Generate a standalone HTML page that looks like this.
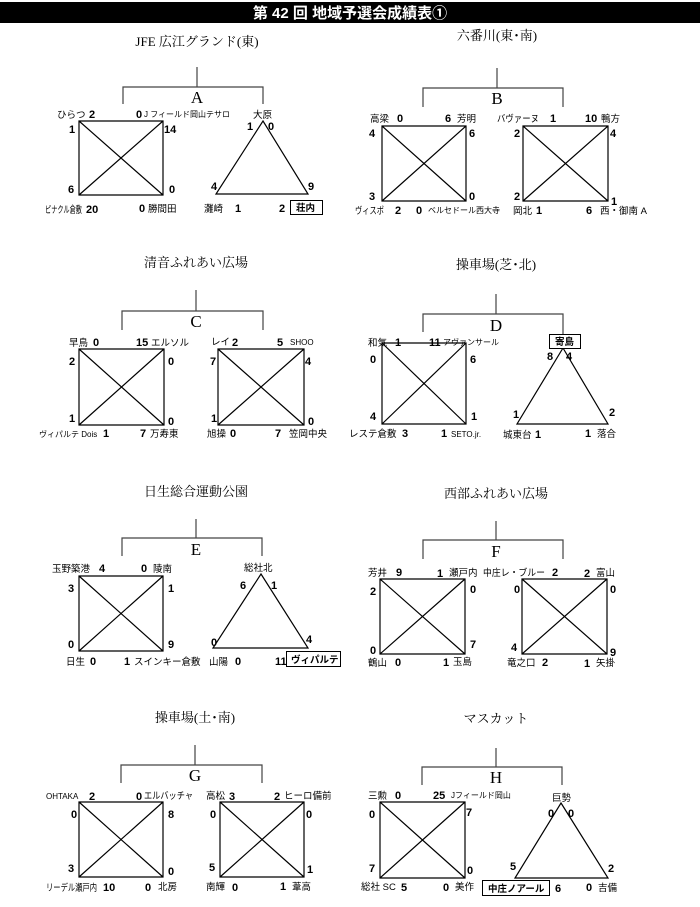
<!DOCTYPE html>
<html><head><meta charset="utf-8"><style>
html,body{margin:0;padding:0;background:#fff;width:700px;height:907px;overflow:hidden}
svg{display:block}
.n{font:bold 11px "Liberation Sans","Noto Sans CJK JP",sans-serif;fill:#000}
.t{font:9.5px "Liberation Sans","Noto Sans CJK JP",sans-serif;fill:#000}
.s{font:8px "Liberation Sans","Noto Sans CJK JP",sans-serif;fill:#000}
.b{font:bold 9.5px "Liberation Sans","Noto Sans CJK JP",sans-serif;fill:#000}
.v{font:13px "Liberation Serif","Noto Serif CJK SC",serif;fill:#000;text-anchor:middle}
.L{font:17px "Liberation Serif","Noto Serif CJK SC",serif;fill:#000;text-anchor:middle}
.ln{stroke:#000;stroke-width:1.2;fill:none}
.br{stroke:#444;stroke-width:1.2;fill:none}
</style></head><body>
<svg width="700" height="907" viewBox="0 0 700 907" xmlns="http://www.w3.org/2000/svg">
<rect x="0" y="2" width="700" height="21" fill="#000"/>
<text x="350" y="18" text-anchor="middle" style="font:bold 15px 'Liberation Sans','Noto Sans CJK JP',sans-serif;fill:#fff">第 42 回  地域予選会成績表①</text>

<!-- A -->
<text class="v" x="197" y="46">JFE 広江グランド(東)</text>
<path class="br" d="M197 67V87M123 104V87H263V104"/>
<text class="L" x="197" y="103">A</text>
<path class="ln" d="M79 121H163V195H79ZM79 121L163 195M163 121L79 195"/>
<path class="ln" d="M263 121L308 194H216Z"/>
<text class="t" x="57" y="118">ひらつ</text><text class="n" x="89" y="118">2</text>
<text class="n" x="136" y="118">0</text><text class="s" x="144" y="117">J フィールド岡山テサロ</text>
<text class="t" x="253" y="118">大原</text>
<text class="n" x="247" y="130">1</text><text class="n" x="268" y="130">0</text>
<text class="n" x="69" y="133">1</text><text class="n" x="164" y="133">14</text>
<text class="n" x="68" y="193">6</text><text class="n" x="169" y="193">0</text>
<text class="t" x="45" y="213" textLength="37" lengthAdjust="spacingAndGlyphs">ピナクル倉敷</text><text class="n" x="86" y="213">20</text>
<text class="n" x="139" y="212">0</text><text class="t" x="148" y="212">勝間田</text>
<text class="n" x="211" y="190">4</text><text class="n" x="308" y="190">9</text>
<text class="t" x="204" y="212">灘崎</text><text class="n" x="235" y="212">1</text>
<text class="n" x="279" y="212">2</text>
<rect x="290.5" y="200.5" width="32" height="14" fill="none" stroke="#000"/><text class="b" x="296" y="211">荘内</text>

<!-- B -->
<text class="v" x="497" y="40">六番川(東･南)</text>
<path class="br" d="M497 68V88M423 107V88H563V107"/>
<text class="L" x="497" y="104">B</text>
<path class="ln" d="M382 126H466V201H382ZM382 126L466 201M466 126L382 201"/>
<path class="ln" d="M523 126H608V201H523ZM523 126L608 201M608 126L523 201"/>
<text class="t" x="370" y="122">高梁</text><text class="n" x="397" y="122">0</text>
<text class="n" x="445" y="122">6</text><text class="t" x="457" y="122">芳明</text>
<text class="t" x="497" y="122" textLength="42" lengthAdjust="spacingAndGlyphs">バヴァーヌ</text><text class="n" x="550" y="122">1</text>
<text class="n" x="585" y="122">10</text><text class="t" x="601" y="122">鴨方</text>
<text class="n" x="369" y="137">4</text><text class="n" x="469" y="137">6</text>
<text class="n" x="514" y="137">2</text><text class="n" x="610" y="137">4</text>
<text class="n" x="369" y="200">3</text><text class="n" x="469" y="200">0</text>
<text class="n" x="514" y="200">2</text><text class="n" x="611" y="205">1</text>
<text class="t" x="355" y="214" textLength="29" lengthAdjust="spacingAndGlyphs">ヴィスポ</text><text class="n" x="395" y="214">2</text>
<text class="n" x="416" y="214">0</text><text class="s" x="428" y="213">ベルセドール西大寺</text>
<text class="t" x="513" y="214">岡北</text><text class="n" x="536" y="214">1</text>
<text class="n" x="586" y="214">6</text><text class="t" x="600" y="214">西・御南 A</text>

<!-- C -->
<text class="v" x="196" y="267">清音ふれあい広場</text>
<path class="br" d="M196 290V311M122 330V311H263V330"/>
<text class="L" x="196" y="327">C</text>
<path class="ln" d="M79 349H164V425H79ZM79 349L164 425M164 349L79 425"/>
<path class="ln" d="M218 349H304V425H218ZM218 349L304 425M304 349L218 425"/>
<text class="t" x="69" y="346">早鳥</text><text class="n" x="93" y="346">0</text>
<text class="n" x="136" y="346">15</text><text class="t" x="151" y="346">エルソル</text>
<text class="t" x="211" y="345">レイ</text><text class="n" x="232" y="346">2</text>
<text class="n" x="277" y="346">5</text><text class="s" x="290" y="345">SHOO</text>
<text class="n" x="69" y="365">2</text><text class="n" x="168" y="365">0</text>
<text class="n" x="210" y="365">7</text><text class="n" x="305" y="365">4</text>
<text class="n" x="69" y="422">1</text><text class="n" x="168" y="425">0</text>
<text class="n" x="211" y="422">1</text><text class="n" x="308" y="425">0</text>
<text class="s" x="39" y="437">ヴィパルテ Dois</text><text class="n" x="103" y="437">1</text>
<text class="n" x="140" y="437">7</text><text class="t" x="150" y="437">万寿東</text>
<text class="t" x="207" y="437">旭操</text><text class="n" x="230" y="437">0</text>
<text class="n" x="275" y="437">7</text><text class="t" x="289" y="437">笠岡中央</text>

<!-- D -->
<text class="v" x="496" y="269">操車場(芝･北)</text>
<path class="br" d="M496 294V314M423 332V314H563V335"/>
<text class="L" x="496" y="331">D</text>
<path class="ln" d="M382 343H466V424H382ZM382 343L466 424M466 343L382 424"/>
<path class="ln" d="M563 348L608 424H517Z"/>
<rect x="549.5" y="334.5" width="31" height="14" fill="#fff" stroke="#000"/><text class="b" x="555" y="345">寄島</text>
<text class="t" x="368" y="346">和気</text><text class="n" x="395" y="346">1</text>
<text class="n" x="429" y="346">11</text><text class="s" x="443" y="345">アヴァンサール</text>
<text class="n" x="370" y="363">0</text><text class="n" x="470" y="363">6</text>
<text class="n" x="547" y="360">8</text><text class="n" x="566" y="360">4</text>
<text class="n" x="370" y="420">4</text><text class="n" x="471" y="420">1</text>
<text class="n" x="513" y="418">1</text><text class="n" x="609" y="416">2</text>
<text class="t" x="349" y="437">レステ倉敷</text><text class="n" x="402" y="437">3</text>
<text class="n" x="441" y="437">1</text><text class="s" x="451" y="437">SETO.jr.</text>
<text class="t" x="503" y="438">城東台</text><text class="n" x="535" y="438">1</text>
<text class="n" x="585" y="437">1</text><text class="t" x="597" y="437">落合</text>

<!-- E -->
<text class="v" x="196" y="496">日生総合運動公園</text>
<path class="br" d="M196 519V538M122 556V538H262V556"/>
<text class="L" x="196" y="555">E</text>
<path class="ln" d="M79 576H163V651H79ZM79 576L163 651M163 576L79 651"/>
<path class="ln" d="M261 574L308 648H213Z"/>
<text class="t" x="52" y="572">玉野築港</text><text class="n" x="99" y="572">4</text>
<text class="n" x="141" y="572">0</text><text class="t" x="153" y="572">陵南</text>
<text class="t" x="244" y="571">総社北</text>
<text class="n" x="68" y="592">3</text><text class="n" x="168" y="592">1</text>
<text class="n" x="240" y="589">6</text><text class="n" x="271" y="589">1</text>
<text class="n" x="68" y="648">0</text><text class="n" x="168" y="648">9</text>
<text class="n" x="211" y="646">0</text><text class="n" x="306" y="643">4</text>
<text class="t" x="66" y="665">日生</text><text class="n" x="90" y="665">0</text>
<text class="n" x="124" y="665">1</text><text class="t" x="134" y="665">スインキー倉敷</text>
<text class="t" x="209" y="665">山陽</text><text class="n" x="235" y="665">0</text>
<text class="n" x="275" y="665">11</text>
<rect x="286.5" y="651.5" width="54" height="15" fill="none" stroke="#000"/><text class="b" x="291" y="663">ヴィパルテ</text>

<!-- F -->
<text class="v" x="496" y="498">西部ふれあい広場</text>
<path class="br" d="M496 521V540M423 559V540H563V559"/>
<text class="L" x="496" y="557">F</text>
<path class="ln" d="M380 579H465V654H380ZM380 579L465 654M465 579L380 654"/>
<path class="ln" d="M522 579H607V654H522ZM522 579L607 654M607 579L522 654"/>
<text class="t" x="368" y="576">芳井</text><text class="n" x="396" y="576">9</text>
<text class="n" x="437" y="577">1</text><text class="t" x="449" y="576">瀬戸内</text>
<text class="t" x="483" y="576" textLength="62" lengthAdjust="spacingAndGlyphs">中庄レ・ブルー</text><text class="n" x="552" y="576">2</text>
<text class="n" x="584" y="577">2</text><text class="t" x="596" y="576">富山</text>
<text class="n" x="370" y="595">2</text><text class="n" x="470" y="593">0</text>
<text class="n" x="514" y="593">0</text><text class="n" x="610" y="593">0</text>
<text class="n" x="370" y="654">0</text><text class="n" x="470" y="648">7</text>
<text class="n" x="511" y="651">4</text><text class="n" x="610" y="656">9</text>
<text class="t" x="368" y="666">鶴山</text><text class="n" x="395" y="666">0</text>
<text class="n" x="443" y="666">1</text><text class="t" x="453" y="665">玉島</text>
<text class="t" x="507" y="666">竜之口</text><text class="n" x="542" y="666">2</text>
<text class="n" x="584" y="667">1</text><text class="t" x="596" y="666">矢掛</text>

<!-- G -->
<text class="v" x="195" y="722">操車場(土･南)</text>
<path class="br" d="M195 745V765M121 783V765H262V783"/>
<text class="L" x="195" y="781">G</text>
<path class="ln" d="M79 802H163V877H79ZM79 802L163 877M163 802L79 877"/>
<path class="ln" d="M220 802H304V877H220ZM220 802L304 877M304 802L220 877"/>
<text class="s" x="46" y="799">OHTAKA</text><text class="n" x="89" y="800">2</text>
<text class="n" x="136" y="800">0</text><text class="t" x="144" y="799" textLength="49" lengthAdjust="spacingAndGlyphs">エルバッチャ</text>
<text class="t" x="206" y="799">高松</text><text class="n" x="229" y="800">3</text>
<text class="n" x="274" y="800">2</text><text class="t" x="284" y="799">ヒーロ備前</text>
<text class="n" x="71" y="818">0</text><text class="n" x="168" y="818">8</text>
<text class="n" x="210" y="818">0</text><text class="n" x="306" y="818">0</text>
<text class="n" x="68" y="872">3</text><text class="n" x="168" y="875">0</text>
<text class="n" x="209" y="871">5</text><text class="n" x="307" y="873">1</text>
<text class="t" x="46" y="891" textLength="51" lengthAdjust="spacingAndGlyphs">リーデル瀬戸内</text><text class="n" x="103" y="891">10</text>
<text class="n" x="145" y="891">0</text><text class="t" x="158" y="890">北房</text>
<text class="t" x="206" y="890">南輝</text><text class="n" x="232" y="891">0</text>
<text class="n" x="280" y="890">1</text><text class="t" x="292" y="890">葦高</text>

<!-- H -->
<text class="v" x="496" y="723">マスカット</text>
<path class="br" d="M496 748V767M422 785V767H562V785"/>
<text class="L" x="496" y="783">H</text>
<path class="ln" d="M380 802H465V878H380ZM380 802L465 878M465 802L380 878"/>
<path class="ln" d="M561 803L608 878H515Z"/>
<text class="t" x="368" y="799">三勲</text><text class="n" x="395" y="799">0</text>
<text class="n" x="433" y="799">25</text><text class="s" x="451" y="798">Jフィールド岡山</text>
<text class="t" x="552" y="801">巨勢</text>
<text class="n" x="369" y="818">0</text><text class="n" x="466" y="816">7</text>
<text class="n" x="548" y="817">0</text><text class="n" x="568" y="817">0</text>
<text class="n" x="369" y="872">7</text><text class="n" x="467" y="874">0</text>
<text class="n" x="510" y="870">5</text><text class="n" x="608" y="872">2</text>
<text class="t" x="361" y="890">総社 SC</text><text class="n" x="401" y="891">5</text>
<text class="n" x="443" y="891">0</text><text class="t" x="455" y="890">美作</text>
<rect x="482.5" y="880.5" width="67" height="15" fill="none" stroke="#000"/><text class="b" x="488" y="892">中庄ノアール</text>
<text class="n" x="555" y="892">6</text>
<text class="n" x="586" y="891">0</text><text class="t" x="598" y="891">吉備</text>
</svg>
</body></html>
